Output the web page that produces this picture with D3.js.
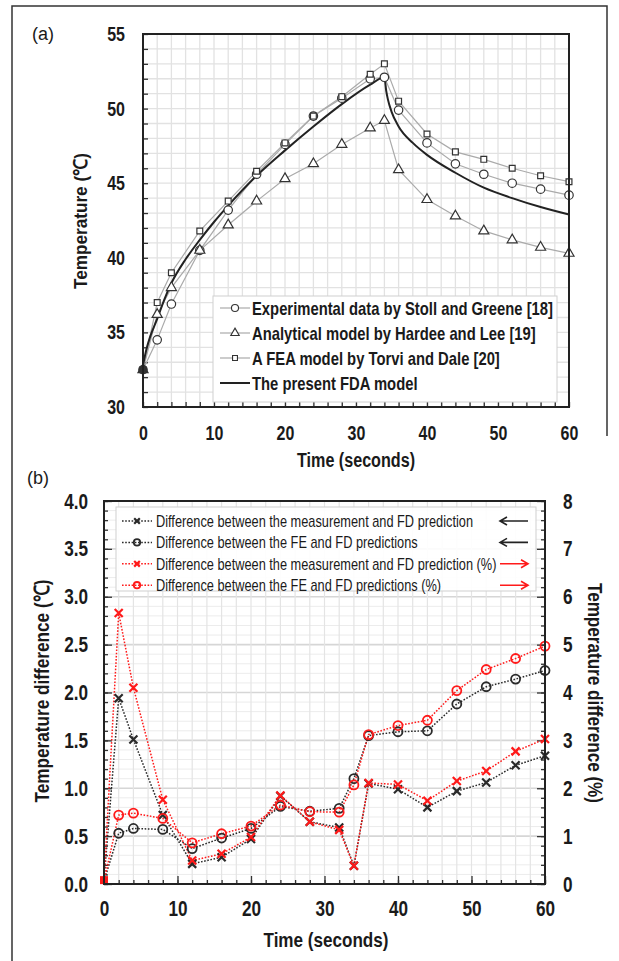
<!DOCTYPE html>
<html>
<head>
<meta charset="utf-8">
<script src="https://cdn.jsdelivr.net/npm/d3@7/dist/d3.min.js"></script>
<style>
body { margin: 0; background: #fff; }
svg { display: block; }
text { font-family: "Liberation Sans", Arial, sans-serif; fill: #1a1a1a; }
</style>
</head>
<body>
<div id="chart"></div>
<script>
// ---- panel (a) data : temperature vs time
var timesA = [0, 2, 4, 8, 12, 16, 20, 24, 28, 32, 34, 36, 40, 44, 48, 52, 56, 60]
var expData = [32.5, 34.5, 36.9, 40.5, 43.2, 45.6, 47.6, 49.5, 50.7, 52.0, 52.1, 49.9, 47.7, 46.3, 45.6, 45.0, 44.6, 44.2]
var hardeeData = [32.5, 36.2, 38.0, 40.5, 42.2, 43.8, 45.3, 46.3, 47.6, 48.7, 49.2, 45.9, 43.9, 42.8, 41.8, 41.2, 40.7, 40.3]
var torviData = [32.5, 37.0, 39.0, 41.8, 43.8, 45.8, 47.7, 49.5, 50.8, 52.3, 53.0, 50.5, 48.3, 47.1, 46.6, 46.0, 45.5, 45.1]
var fdaTimes = [0, 0.5, 1, 2, 3, 4, 6, 8, 10, 12, 16, 20, 24, 28, 32, 34, 34.25, 34.5, 35, 36, 38, 40, 44, 48, 52, 56, 60]
var fdaData = [32.8, 33.9, 34.7, 35.9, 37.2, 38.3, 39.9, 41.2, 42.4, 43.5, 45.5, 47.2, 48.8, 50.3, 51.6, 52.1, 51.2, 50.6, 49.8, 48.8, 47.7, 46.9, 45.7, 44.7, 44.0, 43.4, 42.9]
var legendA = ['Experimental data by Stoll and Greene [18]', 'Analytical model by Hardee and Lee [19]', 'A FEA model by Torvi and Dale [20]', 'The present FDA model']
var yTicksA = [30, 35, 40, 45, 50, 55]
var xTicks = [0, 10, 20, 30, 40, 50, 60]

// ---- panel (b) data : differences
var timesB = [0, 2, 4, 8, 12, 16, 20, 24, 28, 32, 34, 36, 40, 44, 48, 52, 56, 60]
var measDiff = [0.03, 1.94, 1.51, 0.72, 0.21, 0.28, 0.47, 0.92, 0.65, 0.59, 0.19, 1.05, 0.99, 0.80, 0.97, 1.06, 1.24, 1.34]
var feDiff = [0.03, 0.53, 0.58, 0.57, 0.37, 0.48, 0.58, 0.81, 0.76, 0.79, 1.10, 1.55, 1.59, 1.60, 1.88, 2.06, 2.14, 2.23]
var measPct = [0.06, 5.66, 4.10, 1.76, 0.49, 0.63, 0.98, 1.85, 1.30, 1.13, 0.38, 2.11, 2.08, 1.74, 2.15, 2.36, 2.77, 3.03]
var fePct = [0.06, 1.44, 1.48, 1.37, 0.86, 1.05, 1.21, 1.65, 1.51, 1.50, 2.07, 3.12, 3.31, 3.42, 4.04, 4.48, 4.71, 4.97]
var legendB = ['Difference between the measurement and FD prediction', 'Difference between the FE and FD predictions', 'Difference between the measurement and FD prediction (%)', 'Difference between the FE and FD predictions (%)']
var yTicksB = [0, 0.5, 1, 1.5, 2, 2.5, 3, 3.5, 4]
var yTicksB2 = [0, 1, 2, 3, 4, 5, 6, 7, 8]

var W = 619, H = 961
var svg = d3.select('#chart').append('svg').attr('width', W).attr('height', H)
svg.append('rect').attr('width', W).attr('height', H).attr('fill', '#fff')

// the original uses a narrow face, squeeze the glyphs
function condense(sel, k) {
	sel.each(function(){
		var w = this.getComputedTextLength()
		d3.select(this).attr('textLength', w * k).attr('lengthAdjust', 'spacingAndGlyphs')
	})
}

// figure frame
svg.append('path').attr('d', 'M12,961 L12,6 L607,6 L607,436').attr('fill', 'none').attr('stroke', '#333').attr('stroke-width', 1.5)

// ================= panel (a)
var xA = d3.scaleLinear().domain([0, 60]).range([143, 569])
var yA = d3.scaleLinear().domain([30, 55]).range([407, 34])
var gA = svg.append('g')

gA.append('text').attr('x', 43).attr('y', 40).attr('text-anchor', 'middle').style('font-size', '18px').text('(a)')

gA.append('g').selectAll('line').data(d3.range(0, 61, 2)).enter().append('line')
	.attr('x1', function(d){ return xA(d) }).attr('x2', function(d){ return xA(d) })
	.attr('y1', yA(30)).attr('y2', yA(55)).attr('stroke', '#e2e2e2').attr('stroke-width', 1.3)
gA.append('g').selectAll('line').data(d3.range(30, 56, 1)).enter().append('line')
	.attr('y1', function(d){ return yA(d) }).attr('y2', function(d){ return yA(d) })
	.attr('x1', xA(0)).attr('x2', xA(60)).attr('stroke', '#e2e2e2').attr('stroke-width', 1.3)

// inward ticks
gA.append('g').attr('transform', 'translate(' + xA(0) + ',0)')
	.call(d3.axisLeft(yA).tickValues(d3.range(30, 56, 1)).tickSize(-5).tickFormat(''))
	.call(function(g){ g.select('.domain').remove(); g.selectAll('line').attr('stroke', '#333').attr('stroke-width', 1.3) })
gA.append('g').attr('transform', 'translate(0,' + yA(30) + ')')
	.call(d3.axisBottom(xA).tickValues(d3.range(0, 61, 2)).tickSize(-5).tickFormat(''))
	.call(function(g){ g.select('.domain').remove(); g.selectAll('line').attr('stroke', '#333').attr('stroke-width', 1.3) })

// tick labels
gA.append('g').attr('transform', 'translate(' + xA(0) + ',0)')
	.call(d3.axisLeft(yA).tickValues(yTicksA).tickSize(0).tickPadding(18))
	.call(function(g){ g.select('.domain').remove(); g.selectAll('text').style('font-size', '20px').style('font-weight', 'bold').attr('fill', '#1a1a1a').call(condense, 0.8) })
gA.append('g').attr('transform', 'translate(0,' + yA(30) + ')')
	.call(d3.axisBottom(xA).tickValues(xTicks).tickSize(0).tickPadding(19))
	.call(function(g){ g.select('.domain').remove(); g.selectAll('text').style('font-size', '20px').style('font-weight', 'bold').attr('fill', '#1a1a1a').call(condense, 0.8) })

gA.append('text').attr('x', 356).attr('y', 467).attr('text-anchor', 'middle').style('font-size', '20px').style('font-weight', 'bold')
	.text('Time (seconds)').attr('textLength', 118).attr('lengthAdjust', 'spacingAndGlyphs')
gA.append('text').attr('transform', 'translate(87,' + 221 + ') rotate(-90)').attr('text-anchor', 'middle').style('font-size', '19px').style('font-weight', 'bold')
	.text('Temperature (℃)').attr('textLength', 136).attr('lengthAdjust', 'spacingAndGlyphs')

var lineA = d3.line().x(function(d){ return xA(d[0]) }).y(function(d){ return yA(d[1]) })
var seriesA = [
	{ values: expData, shape: 'circle' },
	{ values: hardeeData, shape: 'triangle' },
	{ values: torviData, shape: 'square' }
]

function markerPath(shape, size) {
	if (shape === 'circle') return d3.symbol().type(d3.symbolCircle).size(size)()
	if (shape === 'triangle') return d3.symbol().type(d3.symbolTriangle).size(size)()
	return d3.symbol().type(d3.symbolSquare).size(size)()
}
var markerSize = { circle: 56, triangle: 44, square: 34 }

seriesA.forEach(function(s){
	var pts = timesA.map(function(t, i){ return [t, s.values[i]] })
	gA.append('path').attr('d', lineA(pts)).attr('fill', 'none').attr('stroke', '#aaa').attr('stroke-width', 1.2)
})
var fdaPts = fdaTimes.map(function(t, i){ return [t, fdaData[i]] })
gA.append('path').attr('d', lineA.curve(d3.curveMonotoneX)(fdaPts)).attr('fill', 'none').attr('stroke', '#222').attr('stroke-width', 2)
lineA.curve(d3.curveLinear)

seriesA.forEach(function(s){
	gA.append('g').selectAll('path').data(timesA).enter().append('path')
		.attr('transform', function(t, i){ return 'translate(' + xA(t) + ',' + yA(s.values[i]) + ')' })
		.attr('d', markerPath(s.shape, markerSize[s.shape]))
		.attr('fill', function(t){ return t === 0 ? '#333' : '#fff' })
		.attr('stroke', '#333').attr('stroke-width', 1.2)
})

// frame of plot area
gA.append('rect').attr('x', xA(0)).attr('y', yA(55)).attr('width', xA(60) - xA(0)).attr('height', yA(30) - yA(55))
	.attr('fill', 'none').attr('stroke', '#222').attr('stroke-width', 2)

// legend (a)
var legA = gA.append('g')
legA.append('rect').attr('x', 213).attr('y', 296).attr('width', 344).attr('height', 106).attr('fill', '#fff').attr('stroke', '#d0d0d0')
var legAText = []
legendA.forEach(function(label, i){
	var y = 308 + i * 25
	if (i < 3) {
		legA.append('line').attr('x1', 220).attr('x2', 250).attr('y1', y).attr('y2', y).attr('stroke', '#aaa').attr('stroke-width', 1.2)
		legA.append('path').attr('transform', 'translate(235,' + y + ')').attr('d', markerPath(seriesA[i].shape, markerSize[seriesA[i].shape] * 0.7))
			.attr('fill', '#fff').attr('stroke', '#333').attr('stroke-width', 1.1)
	} else {
		legA.append('line').attr('x1', 220).attr('x2', 250).attr('y1', y).attr('y2', y).attr('stroke', '#222').attr('stroke-width', 2)
	}
	legAText.push(legA.append('text').attr('x', 252).attr('y', y + 6.5).style('font-size', '19px').style('font-weight', 'bold').text(label))
})
var kA = 301 / legAText[0].node().getComputedTextLength()
legAText.forEach(function(t){ t.call(condense, kA) })

// ================= panel (b)
var xB = d3.scaleLinear().domain([0, 60]).range([104, 545])
var yB = d3.scaleLinear().domain([0, 4]).range([884, 501])
var yB2 = d3.scaleLinear().domain([0, 8]).range([884, 501])
var gB = svg.append('g')

gB.append('text').attr('x', 38).attr('y', 484).attr('text-anchor', 'middle').style('font-size', '18px').text('(b)')

gB.append('g').selectAll('line').data(d3.range(0, 4.01, 0.1)).enter().append('line')
	.attr('y1', function(d){ return yB(d) }).attr('y2', function(d){ return yB(d) })
	.attr('x1', xB(0)).attr('x2', xB(60))
	.attr('stroke', function(d, i){ return i % 5 === 0 ? '#d6d6d6' : '#ececec' })
	.attr('stroke-width', function(d, i){ return i % 5 === 0 ? 1.6 : 1 })
gB.append('g').selectAll('line').data(d3.range(0, 61, 2)).enter().append('line')
	.attr('x1', function(d){ return xB(d) }).attr('x2', function(d){ return xB(d) })
	.attr('y1', yB(0)).attr('y2', yB(4)).attr('stroke', '#e4e4e4').attr('stroke-width', 1.2)

function inwardTicks(g) {
	g.select('.domain').remove()
	g.selectAll('line').attr('stroke', '#333').attr('stroke-width', 1.3)
}
gB.append('g').attr('transform', 'translate(' + xB(0) + ',0)')
	.call(d3.axisLeft(yB).tickValues(d3.range(0, 4.01, 0.1)).tickSize(-4).tickFormat('')).call(inwardTicks)
gB.append('g').attr('transform', 'translate(' + xB(0) + ',0)')
	.call(d3.axisLeft(yB).tickValues(yTicksB).tickSize(-8).tickFormat('')).call(inwardTicks)
gB.append('g').attr('transform', 'translate(' + xB(60) + ',0)')
	.call(d3.axisRight(yB2).tickValues(d3.range(0, 8.01, 0.2)).tickSize(-4).tickFormat('')).call(inwardTicks)
gB.append('g').attr('transform', 'translate(' + xB(60) + ',0)')
	.call(d3.axisRight(yB2).tickValues(yTicksB2).tickSize(-8).tickFormat('')).call(inwardTicks)
gB.append('g').attr('transform', 'translate(0,' + yB(0) + ')')
	.call(d3.axisBottom(xB).tickValues(d3.range(0, 61, 2)).tickSize(-4).tickFormat('')).call(inwardTicks)
gB.append('g').attr('transform', 'translate(0,' + yB(0) + ')')
	.call(d3.axisBottom(xB).tickValues(xTicks).tickSize(-8).tickFormat('')).call(inwardTicks)

function labelStyle(g) {
	g.select('.domain').remove()
	g.selectAll('text').style('font-size', '22px').style('font-weight', 'bold').attr('fill', '#1a1a1a').call(condense, 0.78)
}
gB.append('g').attr('transform', 'translate(' + xB(0) + ',0)')
	.call(d3.axisLeft(yB).tickValues(yTicksB).tickSize(0).tickPadding(16).tickFormat(d3.format('.1f'))).call(labelStyle)
gB.append('g').attr('transform', 'translate(' + xB(60) + ',0)')
	.call(d3.axisRight(yB2).tickValues(yTicksB2).tickSize(0).tickPadding(18)).call(labelStyle)
gB.append('g').attr('transform', 'translate(0,' + yB(0) + ')')
	.call(d3.axisBottom(xB).tickValues(xTicks).tickSize(0).tickPadding(16)).call(labelStyle)

gB.append('text').attr('x', 326).attr('y', 947).attr('text-anchor', 'middle').style('font-size', '21px').style('font-weight', 'bold')
	.text('Time (seconds)').attr('textLength', 125).attr('lengthAdjust', 'spacingAndGlyphs')
gB.append('text').attr('transform', 'translate(49,691) rotate(-90)').attr('text-anchor', 'middle').style('font-size', '21px').style('font-weight', 'bold')
	.text('Temperature difference (℃)').attr('textLength', 223).attr('lengthAdjust', 'spacingAndGlyphs')
gB.append('text').attr('transform', 'translate(588,693) rotate(90)').attr('text-anchor', 'middle').style('font-size', '21px').style('font-weight', 'bold')
	.text('Temperature difference (%)').attr('textLength', 220).attr('lengthAdjust', 'spacingAndGlyphs')

var seriesB = [
	{ values: measDiff, scale: yB, color: '#2a2a2a', shape: 'cross' },
	{ values: feDiff, scale: yB, color: '#2a2a2a', shape: 'circle' },
	{ values: measPct, scale: yB2, color: '#ff1a1a', shape: 'cross' },
	{ values: fePct, scale: yB2, color: '#ff1a1a', shape: 'circle' }
]

function drawMarker(g, shape, x, y, color, r) {
	if (shape === 'circle') {
		g.append('circle').attr('cx', x).attr('cy', y).attr('r', r).attr('fill', 'none').attr('stroke', color).attr('stroke-width', 1.8)
	} else {
		g.append('path').attr('d', 'M' + (x - r) + ',' + (y - r) + 'L' + (x + r) + ',' + (y + r) + 'M' + (x - r) + ',' + (y + r) + 'L' + (x + r) + ',' + (y - r))
			.attr('stroke', color).attr('stroke-width', 2.2)
	}
}

seriesB.forEach(function(s){
	var line = d3.line().x(function(d){ return xB(d[0]) }).y(function(d){ return s.scale(d[1]) })
	var pts = timesB.map(function(t, i){ return [t, s.values[i]] })
	gB.append('path').attr('d', line(pts)).attr('fill', 'none').attr('stroke', s.color).attr('stroke-width', 1.5).attr('stroke-dasharray', '1.6,1.6')
})
seriesB.forEach(function(s){
	var g = gB.append('g')
	timesB.forEach(function(t, i){
		if (t === 0) return
		drawMarker(g, s.shape, xB(t), s.scale(s.values[i]), s.color, s.shape === 'circle' ? 4.5 : 4)
	})
})
// red square at origin
gB.append('rect').attr('x', xB(0) - 4).attr('y', yB(measDiff[0]) - 5).attr('width', 8).attr('height', 8).attr('fill', '#ff1a1a')

gB.append('rect').attr('x', xB(0)).attr('y', yB(4)).attr('width', xB(60) - xB(0)).attr('height', yB(0) - yB(4))
	.attr('fill', 'none').attr('stroke', '#222').attr('stroke-width', 2)

// legend (b)
var legB = gB.append('g')
legB.append('rect').attr('x', 116).attr('y', 507).attr('width', 420).attr('height', 84).attr('fill', '#fff').attr('fill-opacity', 0.9).attr('stroke', '#cfcfcf')
var legBText = []
legendB.forEach(function(label, i){
	var s = seriesB[i]
	var y = 521 + i * 21.4
	legB.append('line').attr('x1', 122).attr('x2', 152).attr('y1', y).attr('y2', y).attr('stroke', s.color).attr('stroke-width', 1.5).attr('stroke-dasharray', '1.6,1.6')
	drawMarker(legB, s.shape, 137, y, s.color, s.shape === 'circle' ? 3.2 : 2.8)
	legBText.push(legB.append('text').attr('x', 156).attr('y', y + 6).style('font-size', '17px').text(label))
	// arrow to the axis the series is read from
	var left = i < 2
	var x1 = left ? 528 : 500, x2 = left ? 500 : 528
	var dir = left ? 1 : -1
	legB.append('path').attr('d', 'M' + x1 + ',' + y + 'L' + x2 + ',' + y + 'M' + (x2 + dir * 7) + ',' + (y - 4) + 'L' + x2 + ',' + y + 'L' + (x2 + dir * 7) + ',' + (y + 4))
		.attr('fill', 'none').attr('stroke', left ? '#222' : '#ff1a1a').attr('stroke-width', 1.6)
})
var kB = 317 / legBText[0].node().getComputedTextLength()
legBText.forEach(function(t){ t.call(condense, kB) })
</script>
</body>
</html>
